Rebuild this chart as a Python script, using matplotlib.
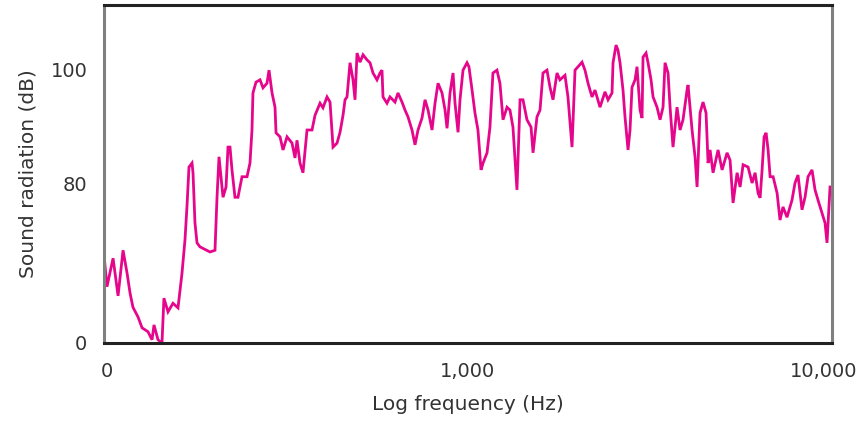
import matplotlib
matplotlib.use("Agg")
import matplotlib.pyplot as plt
import matplotlib.transforms as mtransforms

# Frequency (Hz) and sound radiation level (scale units of the chart)
freq = [100, 101.9, 105.9, 109.3, 112.8, 115.7, 117.9, 120.1, 124.0, 127.2,
        132.1, 135.5, 137.2, 140.7, 144.3, 146.1, 149.9, 154.7, 159.7, 163.8,
        166.9, 169.0, 171.2, 174.5, 175.6, 177.8, 180.1, 183.5, 195.5, 201.8,
        204.4, 207.0, 212.3, 216.4, 219.1, 221.9, 224.7, 229.0, 233.4, 239.4,
        247.1, 251.8, 255.0, 256.6, 261.6, 268.3, 273.4, 280.4, 284.0, 289.5,
        295.0, 296.9, 304.5, 310.3, 318.3, 328.5, 334.8, 339.0, 345.5, 352.1,
        361.2, 372.8, 380.0, 392.2, 399.6, 409.9, 417.8, 425.8, 436.7, 445.1,
        453.6, 459.4, 465.2, 474.1, 483.2, 489.3, 495.6, 505.1, 514.8, 527.9,
        538.0, 548.3, 562.3, 573.1, 580.4, 584.1, 599.0, 610.5, 630.2, 642.2,
        658.7, 671.3, 684.2, 701.7, 715.2, 728.9, 747.6, 762.0, 776.6, 796.5,
        811.7, 827.3, 848.5, 864.8, 875.8, 892.5, 909.7, 921.2, 938.9, 950.7,
        969.0, 993.8, 1006, 1026, 1045, 1065, 1086, 1100, 1128, 1149,
        1171, 1201, 1224, 1248, 1280, 1304, 1329, 1363, 1390, 1416,
        1452, 1490, 1509, 1547, 1577, 1607, 1648, 1680, 1712, 1756,
        1789, 1847, 1882, 1931, 1968, 2006, 2057, 2096, 2137, 2191,
        2233, 2305, 2379, 2425, 2487, 2503, 2551, 2583, 2616, 2666,
        2700, 2752, 2787, 2822, 2877, 2913, 2969, 3007, 3026, 3084,
        3123, 3183, 3224, 3306, 3370, 3434, 3478, 3545, 3590, 3658,
        3752, 3824, 3897, 3997, 4023, 4126, 4205, 4259, 4340, 4423,
        4508, 4566, 4624, 4712, 4864, 4989, 5149, 5248, 5348, 5486,
        5591, 5698, 5881, 6032, 6148, 6266, 6346, 6426, 6508, 6591,
        6675, 6760, 6890, 7067, 7197, 7335, 7523, 7765, 7913, 8065,
        8272, 8431, 8592, 8813, 8982, 9154, 9389, 9569, 9690, 9876, 10000]

level = [67.4, 61.8, 66.8, 60.2, 68.2, 64.2, 60.7, 58.2, 56.5, 54.6,
         53.9, 52.5, 55.1, 52.5, 51.9, 59.8, 57.4, 58.9, 58.1, 64.2,
         70.0, 75.8, 82.8, 83.5, 81.8, 73.0, 69.5, 68.8, 67.9, 68.2,
         77.5, 84.6, 77.5, 79.3, 86.3, 86.3, 82.3, 77.5, 77.5, 81.1,
         81.1, 83.5, 89.3, 95.8, 97.7, 98.1, 96.7, 97.5, 99.8, 95.8,
         93.3, 88.8, 88.1, 85.8, 88.1, 87.0, 84.4, 87.5, 83.5, 81.8,
         89.3, 89.3, 91.9, 94.0, 93.2, 95.1, 94.2, 86.3, 87.0, 88.9,
         91.9, 94.6, 95.1, 101.1, 98.1, 94.6, 102.8, 101.2, 102.5, 101.6,
         101.1, 99.3, 98.1, 99.3, 99.8, 95.1, 94.0, 95.1, 94.2, 95.8,
         94.2, 92.8, 91.6, 89.3, 86.7, 89.3, 91.4, 94.6, 92.8, 89.3,
         94.0, 97.5, 95.8, 92.8, 89.6, 95.8, 99.3, 94.0, 88.9, 94.6,
         99.8, 101.1, 100.4, 96.3, 92.3, 89.3, 82.3, 83.5, 85.3, 89.8,
         99.3, 99.8, 97.5, 91.1, 93.3, 92.8, 89.8, 78.8, 94.6, 94.6,
         91.1, 89.8, 85.3, 91.6, 92.8, 99.3, 99.8, 96.8, 94.6, 99.3,
         98.1, 98.9, 95.1, 86.3, 99.8, 100.4, 101.2, 99.8, 97.5, 95.1,
         96.3, 93.3, 96.0, 94.6, 95.8, 101.1, 104.2, 103.3, 101.1, 96.3,
         91.6, 85.8, 89.3, 96.8, 98.1, 100.4, 92.8, 91.4, 102.1, 102.8,
         101.1, 98.1, 95.1, 93.3, 91.1, 93.3, 101.1, 99.3, 93.3, 86.3,
         93.3, 89.3, 91.1, 96.3, 97.2, 89.3, 84.6, 79.3, 92.3, 94.2,
         92.3, 83.5, 85.8, 81.8, 85.8, 82.3, 85.3, 84.0, 76.5, 81.8,
         79.3, 83.2, 82.8, 80.0, 81.8, 78.2, 77.4, 82.3, 88.1, 88.8,
         85.8, 81.1, 81.1, 78.2, 73.5, 75.8, 74.0, 77.0, 80.0, 81.4,
         75.3, 77.5, 81.1, 82.3, 78.8, 77.0, 74.7, 73.0, 69.5, 79.3, 79.3]

x_ticks = [100, 1000, 10000]
x_tick_labels = ["0", "1,000", "10,000"]
y_ticks = [51.93, 80, 100]
y_tick_labels = ["0", "80", "100"]

fig = plt.figure(figsize=(8.65, 4.29), dpi=100)
ax = fig.add_axes([104 / 865, 1 - 343 / 429, 728 / 865, 338 / 429])

ax.plot(freq, level, color="#E5068B", lw=2.0, solid_joinstyle="miter")

ax.set_xscale("log")
ax.set_xlim(100, 10000)
ax.set_ylim(51.93, 111.23)
ax.minorticks_off()
ax.set_xticks(x_ticks)
ax.set_xticklabels(x_tick_labels)
ax.set_yticks(y_ticks)
ax.set_yticklabels(y_tick_labels)

text_color = "#333333"
ax.tick_params(axis="both", length=0, labelsize=14, labelcolor=text_color)
ax.tick_params(axis="x", pad=14)
ax.tick_params(axis="y", pad=12)

# shift last x label left so it stays within figure
lbls = ax.get_xticklabels()
off = mtransforms.ScaledTranslation(-8 / 100, 0, fig.dpi_scale_trans)
lbls[-1].set_transform(lbls[-1].get_transform() + off)
off0 = mtransforms.ScaledTranslation(3 / 100, 0, fig.dpi_scale_trans)
lbls[0].set_transform(lbls[0].get_transform() + off0)

ax.set_xlabel("Log frequency (Hz)", fontsize=14.5, color=text_color)
ax.set_ylabel("Sound radiation (dB)", fontsize=14.5, color=text_color)
ax.xaxis.set_label_coords(0.5, -0.155)
ax.yaxis.set_label_coords(-0.092, 0.5)

for side in ["top", "bottom"]:
    ax.spines[side].set_color("#222222")
    ax.spines[side].set_linewidth(2.2)
for side in ["left", "right"]:
    ax.spines[side].set_color("#808080")
    ax.spines[side].set_linewidth(2.2)

fig.savefig("out.png", dpi=100)
